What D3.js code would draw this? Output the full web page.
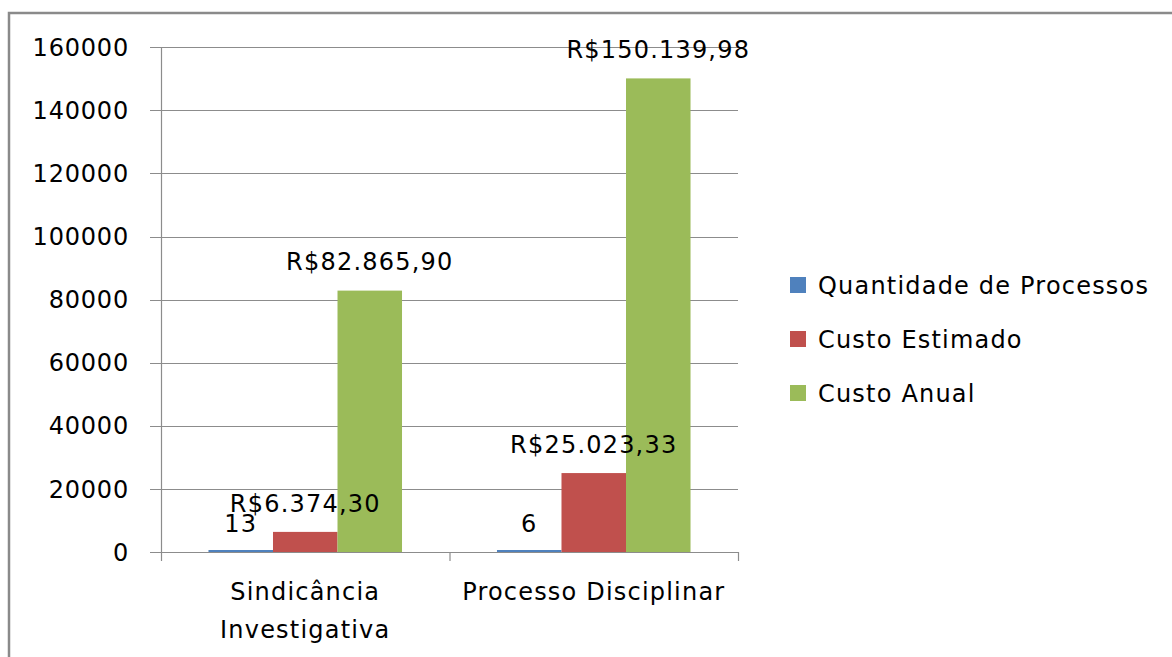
<!DOCTYPE html>
<html>
<head>
<meta charset="utf-8">
<script src="https://cdn.jsdelivr.net/npm/d3@7"></script>
<style>
  body { margin: 0; background: #fff; }
  text { font-family: "DejaVu Sans", sans-serif; fill: #000; letter-spacing: 1.2px; }
</style>
</head>
<body>
<div id="vis"></div>
<script>
// chart data
var categories = [["Sindicância", "Investigativa"], ["Processo Disciplinar"]];
var seriesNames = ["Quantidade de Processos", "Custo Estimado", "Custo Anual"];
var quantidade = [13, 6];
var custoEstimado = [6374.30, 25023.33];
var custoAnual = [82865.90, 150139.98];
var labelsQuantidade = ["13", "6"];
var labelsEstimado = ["R$6.374,30", "R$25.023,33"];
var labelsAnual = ["R$82.865,90", "R$150.139,98"];
var yTicks = [0, 20000, 40000, 60000, 80000, 100000, 120000, 140000, 160000];

var colors = ["#4F81BD", "#C0504D", "#9BBB59"];
var w = 1172, h = 657;

var svg = d3.select("#vis").append("svg")
    .attr("width", w)
    .attr("height", h);

// outer frame
svg.append("rect")
    .attr("x", 9).attr("y", 13)
    .attr("width", 1180).attr("height", 680)
    .attr("fill", "none")
    .attr("stroke", "#8a8a8a")
    .attr("stroke-width", 2.5);

var plotLeft = 161, plotRight = 738, plotTop = 47.3, plotBottom = 552;

var y = d3.scaleLinear().domain([0, 160000]).range([plotBottom, plotTop]);
var x0 = d3.scaleBand().domain(d3.range(categories.length)).range([plotLeft, plotRight]).paddingInner(0).paddingOuter(0);
var x1 = d3.scaleBand().domain(d3.range(3)).range([0, x0.bandwidth()]).paddingOuter(0.736).paddingInner(0);

// gridlines
svg.append("g").selectAll("line")
    .data(yTicks)
    .enter().append("line")
    .attr("x1", 150).attr("x2", plotRight)
    .attr("y1", function(d) { return Math.round(y(d)) + 0.5; })
    .attr("y2", function(d) { return Math.round(y(d)) + 0.5; })
    .attr("stroke", "#8c8c8c")
    .attr("stroke-width", 1.2);

// y tick labels
svg.append("g").selectAll("text")
    .data(yTicks)
    .enter().append("text")
    .attr("x", 129)
    .attr("y", function(d) { return y(d); })
    .attr("dy", "0.36em")
    .attr("text-anchor", "end")
    .style("font-size", "24px")
    .style("letter-spacing", "0.8px")
    .text(function(d) { return d; });

// y axis line
svg.append("line")
    .attr("x1", plotLeft + 0.5).attr("x2", plotLeft + 0.5)
    .attr("y1", plotTop).attr("y2", plotBottom)
    .attr("stroke", "#8c8c8c").attr("stroke-width", 1.2);

var seriesValues = [quantidade, custoEstimado, custoAnual];
var seriesLabels = [labelsQuantidade, labelsEstimado, labelsAnual];

// bars
var groups = svg.append("g").selectAll("g")
    .data(categories)
    .enter().append("g")
    .attr("transform", function(d, i) { return "translate(" + x0(i) + ",0)"; });

groups.selectAll("rect")
    .data(function(d, i) { return seriesValues.map(function(s, k) { return {k: k, v: s[i]}; }); })
    .enter().append("rect")
    .attr("x", function(d) { return x1(d.k); })
    .attr("width", x1.bandwidth())
    .attr("y", function(d) { return Math.min(y(d.v), plotBottom - 2); })
    .attr("height", function(d) { return Math.max(plotBottom - y(d.v), 2); })
    .attr("fill", function(d) { return colors[d.k]; });

// x axis line + ticks
svg.append("line")
    .attr("x1", plotLeft).attr("x2", plotRight)
    .attr("y1", plotBottom + 0.5).attr("y2", plotBottom + 0.5)
    .attr("stroke", "#8c8c8c").attr("stroke-width", 1.2);

svg.append("g").selectAll("line")
    .data(d3.range(categories.length + 1))
    .enter().append("line")
    .attr("x1", function(d) { return plotLeft + d * x0.bandwidth() + 0.5; })
    .attr("x2", function(d) { return plotLeft + d * x0.bandwidth() + 0.5; })
    .attr("y1", plotBottom).attr("y2", plotBottom + 9)
    .attr("stroke", "#8c8c8c").attr("stroke-width", 1.2);

// data labels
groups.selectAll("text.lbl")
    .data(function(d, i) { return seriesLabels.map(function(s, k) { return {k: k, v: seriesValues[k][i], t: s[i]}; }); })
    .enter().append("text")
    .attr("class", "lbl")
    .attr("x", function(d) { return x1(d.k) + x1.bandwidth() / 2; })
    .attr("y", function(d) { return y(d.v) - 29; })
    .attr("dy", "0.36em")
    .attr("text-anchor", "middle")
    .style("font-size", "24px")
    .text(function(d) { return d.t; });

// category labels
groups.selectAll("text.cat")
    .data(function(d) { return d; })
    .enter().append("text")
    .attr("class", "cat")
    .attr("x", x0.bandwidth() / 2)
    .attr("y", function(d, j) { return 600 + j * 38; })
    .attr("text-anchor", "middle")
    .style("font-size", "24px")
    .text(function(d) { return d; });

// legend
var legend = svg.append("g").selectAll("g")
    .data(seriesNames)
    .enter().append("g")
    .attr("transform", function(d, i) { return "translate(790," + (277 + i * 54) + ")"; });

legend.append("rect")
    .attr("width", 16).attr("height", 16)
    .attr("fill", function(d, i) { return colors[i]; });

legend.append("text")
    .attr("x", 28).attr("y", 8)
    .attr("dy", "0.36em")
    .style("font-size", "24px")
    .text(function(d) { return d; });
</script>
</body>
</html>
